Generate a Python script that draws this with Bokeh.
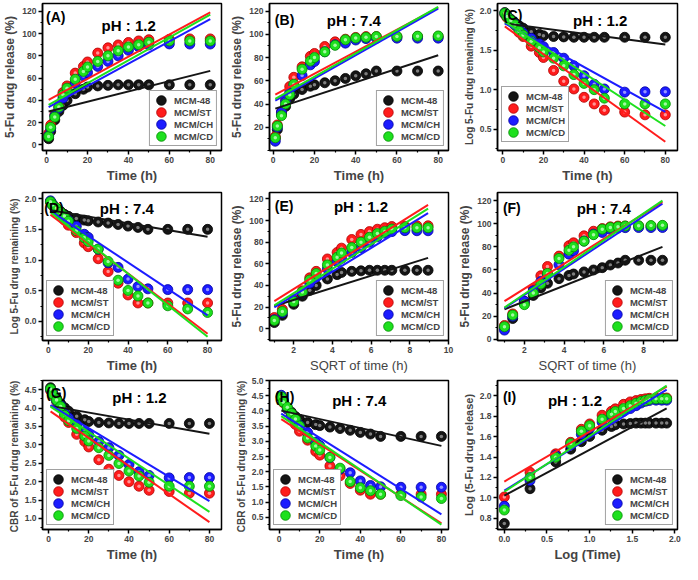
import numpy as np
from bokeh.plotting import figure
from bokeh.layouts import gridplot
from bokeh.models import Range1d, FixedTicker, PrintfTickFormatter, Label, Legend, LegendItem
from bokeh.embed import file_html
from bokeh.resources import INLINE

# ---------------- data ----------------
time_h = [1, 2, 4, 6, 8, 10, 14, 18, 20, 25, 30, 35, 40, 45, 50, 60, 70, 80]
series_names = ["MCM-48", "MCM/ST", "MCM/CH", "MCM/CD"]

# cumulative 5-Fu release (%) at pH 1.2
release_ph12_mcm48 = [5.6, 12.3, 22.5, 30, 35.5, 40, 46, 50, 52, 53, 53.5, 54, 54, 54, 54, 54, 54, 54]
release_ph12_st = [10.2, 17.8, 27, 35, 47, 53, 64.5, 70.5, 74.5, 82.5, 87.2, 89.8, 92, 93.4, 94.5, 94.8, 95.2, 95.2]
release_ph12_ch = [8.3, 14.8, 26, 33, 42, 48, 55.3, 62, 65, 70.5, 75, 80, 85, 88.3, 89.8, 90.7, 90.6, 90.6]
release_ph12_cd = [7.6, 15.8, 25, 34, 45, 51, 59, 66, 70, 75, 80, 84.5, 88, 90, 92.2, 93.4, 93.4, 93.4]

# cumulative 5-Fu release (%) at pH 7.4
release_ph74_mcm48 = [10.5, 18, 31, 38, 44.5, 48.5, 52.5, 55.3, 56.5, 58.3, 60, 62, 64.3, 66, 68.4, 68.4, 68.4, 68.4]
release_ph74_st = [12, 22, 33, 44, 55, 63, 72, 81, 83.5, 89.5, 93.5, 95.8, 97.3, 98, 98, 98, 98, 98]
release_ph74_ch = [8, 20, 33, 42, 50, 56, 64.5, 73.7, 76.6, 85, 91, 92.4, 95.1, 96.3, 96.6, 96.7, 96.7, 96.7]
release_ph74_cd = [11, 21, 30, 40, 48, 57, 70, 77, 80, 84.9, 90.5, 95.3, 96.8, 97.4, 98, 98.2, 98.4, 98.6]

release_ph12 = [release_ph12_mcm48, release_ph12_st, release_ph12_ch, release_ph12_cd]
release_ph74 = [release_ph74_mcm48, release_ph74_st, release_ph74_ch, release_ph74_cd]

# fitted straight lines: value at first and at last time point (MCM-48, ST, CH, CD)
fit_A_start = [30, 40.5, 34, 36];        fit_A_end = [66.5, 119, 113, 117]
fit_B_start = [36, 48, 43, 44.5];        fit_B_end = [82, 123, 122, 123.5]
fit_C_start = [1.84, 1.80, 1.84, 1.86];  fit_C_end = [1.57, 0.34, 0.72, 0.54]
fit_D_start = [1.81, 1.74, 1.80, 1.78];  fit_D_end = [1.38, -0.20, 0.10, -0.25]
fit_E_start = [21, 25.4, 19.6, 21.6];    fit_E_end = [65.5, 114.6, 107, 111]
fit_F_start = [26, 33, 27, 27.5];        fit_F_end = [80, 118.7, 117.3, 120]
fit_G_start = [4.06, 3.91, 4.08, 4.04];  fit_G_end = [3.30, 0.90, 1.47, 1.18]
fit_H_start = [4.01, 3.73, 3.91, 3.83];  fit_H_end = [2.85, 0.30, 0.60, 0.26]
fit_I_start = [1.023, 1.16, 1.07, 1.06]; fit_I_end = [1.878, 2.09, 2.06, 2.10]

# model transforms of the measured data (as in the original kinetic analysis)
t = np.array(time_h, dtype=float)
sqrt_t = np.sqrt(t)
log_t = np.log10(t)

def log_remaining(r):
    return np.log10(100.0 - np.array(r, dtype=float))

def cbr_remaining(r):
    return np.cbrt(100.0 - np.array(r, dtype=float))

def log_release(r):
    return np.log10(np.array(r, dtype=float))

# ---------------- style ----------------
COLORS = ["#151515", "#ff1c1c", "#1c1cff", "#1ee01e"]
EDGES = ["#000000", "#b00000", "#0000a0", "#008a00"]
HILITE = ["#9a9a9a", "#ffb4b4", "#b4b4ff", "#c4ffc4"]
FONT = "Liberation Sans"

COL_W = [227, 228, 227]
COL_L = [35, 38, 37]
COL_R = [6, 7, 5]
ROW_H = [185, 190, 189]
ROW_T = [3, 7, 5]
ROW_B = [27, 32, 29]

time_ticks = [0, 20, 40, 60, 80]
rel_ticks = [0, 20, 40, 60, 80, 100, 120]

def minor(ticks, lo, hi):
    step = (ticks[1] - ticks[0]) / 2.0
    vals = []
    v = ticks[0] - step
    while v >= lo:
        vals.append(v); v -= step
    v = ticks[0] + step
    while v <= hi:
        vals.append(v); v += step
    return [x for x in vals if all(abs(x - tk) > 1e-9 for tk in ticks)]

specs = [
    dict(tag="(A)", ph="pH : 1.2", x=t, y=release_ph12, fs=fit_A_start, fe=fit_A_end,
         xr=(-2, 85.5), yr=(-5, 127), xt=time_ticks, yt=rel_ticks, xf="%d", yf="%d",
         xl="Time (h)", yl="5-Fu drug release (%)", yls="12px", xbold=True,
         leg="bottom_right", tagpos=(0.02, 0.965), phpos=(0.33, 0.905)),
    dict(tag="(B)", ph="pH : 7.4", x=t, y=release_ph74, fs=fit_B_start, fe=fit_B_end,
         xr=(-1.8, 85), yr=(0, 126.5), xt=time_ticks, yt=rel_ticks[1:], xf="%d", yf="%d",
         xl="Time (h)", yl="5-Fu drug release (%)", yls="12px", xbold=True,
         leg="bottom_right", tagpos=(0.03, 0.945), phpos=(0.32, 0.94)),
    dict(tag="(C)", ph="pH : 1.2", x=t, y=[log_remaining(r) for r in release_ph12], fs=fit_C_start, fe=fit_C_end,
         xr=(-2.6, 86), yr=(0.23, 2.09), xt=time_ticks, yt=[0.5, 1.0, 1.5, 2.0], xf="%d", yf="%.1f",
         xl="Time (h)", yl="Log 5-Fu drug remaining (%)", yls="10px", xbold=True,
         leg=(4, 8), tagpos=(0.03, 0.975), phpos=(0.42, 0.94)),
    dict(tag="(D)", ph="pH : 7.4", x=t, y=[log_remaining(r) for r in release_ph74], fs=fit_D_start, fe=fit_D_end,
         xr=(-3, 87), yr=(-0.31, 2.1), xt=time_ticks, yt=[0.0, 0.5, 1.0, 1.5, 2.0], xf="%d", yf="%.1f",
         xl="Time (h)", yl="Log 5-Fu drug remaining (%)", yls="10px", xbold=True,
         leg="bottom_left", tagpos=(0.01, 0.95), phpos=(0.32, 0.95)),
    dict(tag="(E)", ph="pH : 1.2", x=sqrt_t, y=release_ph12, fs=fit_E_start, fe=fit_E_end,
         xr=(0.75, 10.0), yr=(-11, 126), xt=[2, 4, 6, 8, 10], yt=rel_ticks, xf="%d", yf="%d",
         xl="SQRT of time (h)", yl="5-Fu drug release (%)", yls="12px", xbold=False,
         leg="bottom_right", tagpos=(0.03, 0.96), phpos=(0.36, 0.96)),
    dict(tag="(F)", ph="pH : 7.4", x=sqrt_t, y=release_ph74, fs=fit_F_start, fe=fit_F_end,
         xr=(0.65, 9.7), yr=(-1, 127), xt=[2, 4, 6, 8], yt=rel_ticks, xf="%d", yf="%d",
         xl="SQRT of time (h)", yl="5-Fu drug release (%)", yls="12px", xbold=False,
         leg="bottom_right", tagpos=(0.03, 0.95), phpos=(0.44, 0.95)),
    dict(tag="(G)", ph="pH : 1.2", x=t, y=[cbr_remaining(r) for r in release_ph12], fs=fit_G_start, fe=fit_G_end,
         xr=(-3, 86), yr=(0.7, 4.75), xt=time_ticks, yt=[1.0, 1.5, 2.0, 2.5, 3.0, 3.5, 4.0, 4.5], xf="%d", yf="%.1f",
         xl="Time (h)", yl="CBR of  5-Fu drug remaining (%)", yls="10px", xbold=True,
         leg="bottom_left", tagpos=(0.02, 0.97), phpos=(0.39, 0.94)),
    dict(tag="(H)", ph="pH : 7.4", x=t, y=[cbr_remaining(r) for r in release_ph74], fs=fit_H_start, fe=fit_H_end,
         xr=(-4.8, 83.5), yr=(0.1, 5.0), xt=time_ticks, yt=[0.5, 1.0, 1.5, 2.0, 2.5, 3.0, 3.5, 4.0, 4.5, 5.0], xf="%d", yf="%.1f",
         xl="Time (h)", yl="CBR of  5-Fu drug remaining (%)", yls="10px", xbold=True,
         leg="bottom_left", tagpos=(0.03, 0.94), phpos=(0.35, 0.92)),
    dict(tag="(I)", ph="pH : 1.2", x=log_t, y=[log_release(r) for r in release_ph12], fs=fit_I_start, fe=fit_I_end,
         xr=(-0.08, 2.03), yr=(0.69, 2.15), xt=[0.0, 0.5, 1.0, 1.5, 2.0], yt=[0.8, 1.0, 1.2, 1.4, 1.6, 1.8, 2.0], xf="%.1f", yf="%.1f",
         xl="Log (Time)", yl="Log (5-Fu drug release)", yls="11px", xbold=True,
         leg="bottom_right", tagpos=(0.03, 0.94), phpos=(0.28, 0.92)),
]


def style_axis(ax, label, size, bold):
    ax.axis_label = label
    ax.axis_label_text_font = FONT
    ax.axis_label_text_font_size = size
    ax.axis_label_text_font_style = "bold" if bold else "normal"
    ax.axis_label_standoff = 2
    ax.axis_line_width = 1.5
    ax.axis_line_color = "black"
    ax.major_tick_line_width = 1.5
    ax.major_tick_out = 4
    ax.major_tick_in = 0
    ax.minor_tick_out = 2
    ax.minor_tick_in = 0
    ax.minor_tick_line_width = 1.2
    ax.major_label_text_font = FONT
    ax.major_label_text_font_style = "bold"
    ax.major_label_text_font_size = "8.5px"
    ax.major_label_standoff = 2


def make_panel(spec, col, row):
    p = figure(width=COL_W[col], height=ROW_H[row],
               x_range=Range1d(*spec["xr"]), y_range=Range1d(*spec["yr"]),
               output_backend="svg", toolbar_location=None,
               min_border_left=COL_L[col], min_border_right=COL_R[col],
               min_border_top=ROW_T[row], min_border_bottom=ROW_B[row])
    p.xgrid.visible = False
    p.ygrid.visible = False
    p.outline_line_color = "black"
    p.outline_line_width = 1.5
    p.outline_line_alpha = 1.0

    x0, x1 = spec["xr"]
    y0, y1 = spec["yr"]
    p.xaxis.ticker = FixedTicker(ticks=spec["xt"], minor_ticks=minor(spec["xt"], x0, x1))
    p.yaxis.ticker = FixedTicker(ticks=spec["yt"], minor_ticks=minor(spec["yt"], y0, y1))
    p.xaxis.formatter = PrintfTickFormatter(format=spec["xf"])
    p.yaxis.formatter = PrintfTickFormatter(format=spec["yf"])
    style_axis(p.xaxis[0], spec["xl"], "13px", spec["xbold"])
    style_axis(p.yaxis[0], spec["yl"], spec["yls"], True)

    xs = np.asarray(spec["x"], dtype=float)
    items = []
    for i in range(4):
        ys = np.asarray(spec["y"][i], dtype=float)
        outer = p.ellipse(xs, ys, width=10, height=10, width_units="screen", height_units="screen",
                          fill_color=COLORS[i], line_color=EDGES[i], line_width=0.8)
        p.ellipse(xs, ys, width=3.5, height=3.5, width_units="screen", height_units="screen",
                  fill_color=HILITE[i], line_color=None, fill_alpha=0.8)
        items.append(LegendItem(label=series_names[i], renderers=[outer]))
    for i in range(4):
        p.line([xs[0], xs[-1]], [spec["fs"][i], spec["fe"][i]], line_color=COLORS[i], line_width=2)

    leg = Legend(items=items, location=spec["leg"],
                 label_text_font=FONT, label_text_font_style="bold", label_text_font_size="9.5px",
                 label_height=12, glyph_height=12, glyph_width=16, spacing=0,
                 label_standoff=5, padding=3, margin=4,
                 border_line_color="#444444", border_line_width=1,
                 background_fill_color="white", background_fill_alpha=1.0)
    p.add_layout(leg)

    p.add_layout(Label(x=x0 + spec["tagpos"][0] * (x1 - x0), y=y0 + spec["tagpos"][1] * (y1 - y0),
                       text=spec["tag"], text_font=FONT, text_font_style="bold", text_font_size="14px",
                       text_baseline="top", text_align="left", text_color="black"))
    p.add_layout(Label(x=x0 + spec["phpos"][0] * (x1 - x0), y=y0 + spec["phpos"][1] * (y1 - y0),
                       text=spec["ph"], text_font=FONT, text_font_style="bold", text_font_size="15px",
                       text_baseline="top", text_align="left", text_color="black"))
    return p


panels = [make_panel(s, k % 3, k // 3) for k, s in enumerate(specs)]
grid = gridplot([panels[0:3], panels[3:6], panels[6:9]], toolbar_location=None)

open("out.html", "w").write(file_html(grid, INLINE))
